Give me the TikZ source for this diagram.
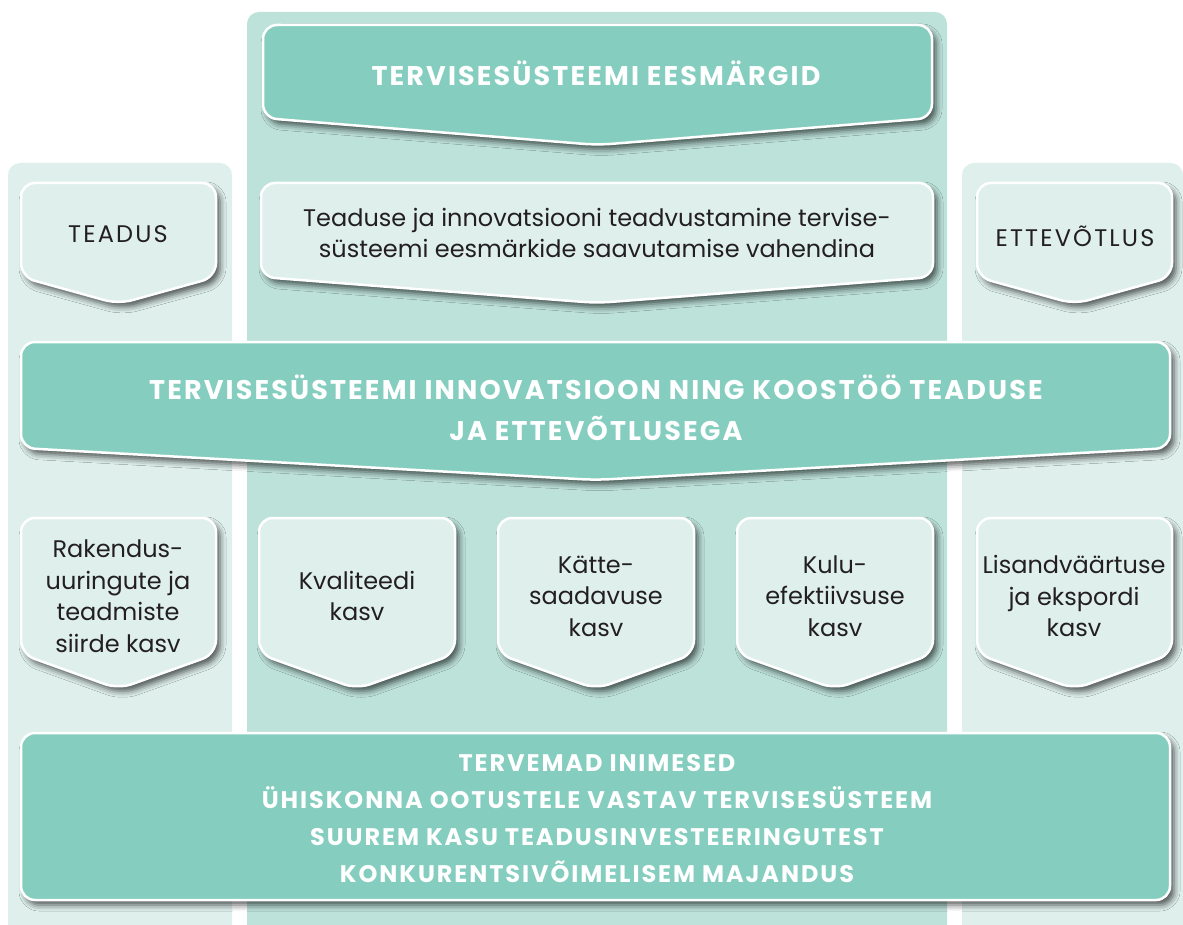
\documentclass[tikz,border=0pt]{standalone}
\usepackage{fontspec}
\setmainfont{Poppins}
\newfontfamily\capsfont{Poppins}[LetterSpace=8]
\newfontfamily\widefont{Poppins}[LetterSpace=9]
\usetikzlibrary{shadows.blur}
\definecolor{tealdark}{HTML}{85CEBF}
\definecolor{teallight}{HTML}{DFF0EC}
\definecolor{tealmid}{HTML}{BDE2DA}
\definecolor{inkgray}{HTML}{231F20}
\tikzstyle{colbg} = [rounded corners=12]
\tikzstyle{box} = [draw=white, line width=2.5, rounded corners=14, blur shadow={shadow xshift=4pt,shadow yshift=-5pt,shadow blur radius=6pt,shadow opacity=65}]
\tikzstyle{darkbox} = [box, fill=tealdark]
\tikzstyle{lightbox} = [box, fill=teallight]
\tikzstyle{headtxt} = [text=white, font=\capsfont\bfseries\fontsize{27}{41}\selectfont, align=center]
\tikzstyle{bodytxt} = [text=inkgray, font=\fontsize{24}{31.5}\selectfont, align=center]
\tikzstyle{sidetxt} = [bodytxt, font=\widefont\fontsize{24}{31.5}\selectfont]
\tikzstyle{goaltxt} = [headtxt, font=\capsfont\bfseries\fontsize{24}{37}\selectfont]
% box with a downward tip: style, left, right, top, side bottom, tip
\newcommand{\tipbox}[6]{%
  \path[#1] ({(#2+#3)/2},#4) -- (#3,#4) -- (#3,#5) -- ({(#2+#3)/2},#6) -- (#2,#5) -- (#2,#4) -- cycle;}

\begin{document}
\begin{tikzpicture}[x=1pt,y=-1pt]
  \useasboundingbox (0,0) rectangle (1183,925);

  % columns
  \fill[teallight, colbg] (8,950) -- (8,163) -- (232,163) -- (232,950) -- cycle;
  \fill[tealmid, colbg] (247,950) -- (247,12) -- (947,12) -- (947,950) -- cycle;
  \fill[teallight, colbg] (962,950) -- (962,163) -- (1183,163) -- (1183,950) -- cycle;

  % boxes
  \tipbox{darkbox}{263}{932}{25}{118}{145}
  \tipbox{lightbox}{261}{933}{183}{277}{303}
  \tipbox{lightbox}{21}{216}{183}{277}{304}
  \tipbox{lightbox}{977}{1172}{183}{277}{304}
  \tipbox{darkbox}{21}{1170}{342}{448}{480}
  \tipbox{lightbox}{21}{216}{518}{654}{689}
  \tipbox{lightbox}{259}{455}{518}{654}{689}
  \tipbox{lightbox}{498}{694}{518}{654}{689}
  \tipbox{lightbox}{737}{933}{518}{654}{689}
  \tipbox{lightbox}{977}{1172}{518}{654}{689}
  \path[darkbox] (21,733) rectangle (1170,900);

  % texts
  \node[headtxt] (goals) at (596,73) {TERVISESÜSTEEMI EESMÄRGID};
  \node[bodytxt] (means) at (597,233) {Teaduse ja innovatsiooni teadvustamine tervise-\\süsteemi eesmärkide saavutamise vahendina};
  \node[sidetxt] (science) at (118,234) {TEADUS};
  \node[sidetxt] (business) at (1075,236) {ETTEVÕTLUS};
  \node[headtxt] (innov) at (596,408) {TERVISESÜSTEEMI INNOVATSIOON NING KOOSTÖÖ TEADUSE\\JA ETTEVÕTLUSEGA};
  \node[bodytxt] (transfer) at (118,596) {Rakendus-\\uuringute ja\\teadmiste\\siirde kasv};
  \node[bodytxt] (quality) at (357,596) {Kvaliteedi\\kasv};
  \node[bodytxt] (access) at (596,596) {Kätte-\\saadavuse\\kasv};
  \node[bodytxt] (cost) at (835,596) {Kulu-\\efektiivsuse\\kasv};
  \node[bodytxt] (value) at (1074,596) {Lisandväärtuse\\ja ekspordi\\kasv};
  \node[goaltxt] (outcome) at (597,819) {TERVEMAD INIMESED\\ÜHISKONNA OOTUSTELE VASTAV TERVISESÜSTEEM\\SUUREM KASU TEADUSINVESTEERINGUTEST\\KONKURENTSIVÕIMELISEM MAJANDUS};
\end{tikzpicture}
\end{document}
